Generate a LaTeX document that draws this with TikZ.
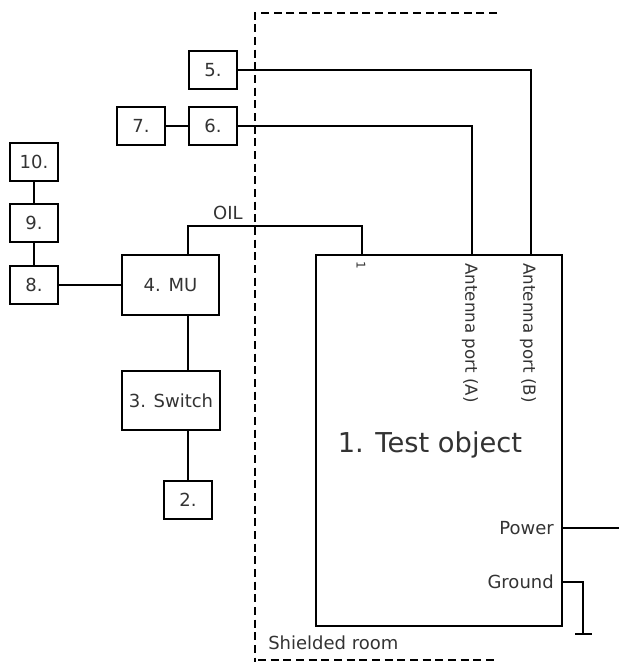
\documentclass[tikz,border=0pt]{standalone}
\usepackage{fontspec}
\setmainfont{DejaVu Sans}
\usetikzlibrary{calc}
\begin{document}
\begin{tikzpicture}[x=0.75pt,y=-0.75pt,
 box/.style={draw,line width=1.4pt,inner sep=0pt,text=black!80,font=\fontsize{13.5}{16}\selectfont},
 small/.style={box,minimum width=36pt,minimum height=29pt},
 wire/.style={line width=1.3pt},
 room/.style={line width=2.1pt,dash pattern=on 6pt off 3.5pt},
 lbl/.style={inner sep=0pt,text=black!80,font=\fontsize{13.5}{16}\selectfont}]
\useasboundingbox (0,0) rectangle (619,662);
% shielded room
\draw[room] (497,13) -- (255,13) -- (255,662);
\draw[room] (258,660) -- (497,660);
\node[lbl,anchor=west] (room) at (268,643) {Shielded room};
% boxes
\node[small] (n5) at (213,70) {5.};
\node[small] (n6) at (213,126) {6.};
\node[small] (n7) at (141,126) {7.};
\node[small] (n10) at (34,162) {10.};
\node[small] (n9) at (34,223) {9.};
\node[small] (n8) at (34,285) {8.};
\node[box,minimum width=73pt,minimum height=45pt] (mu) at (170.5,285) {4. MU};
\node[box,minimum width=73.5pt,minimum height=44pt] (sw) at (171,400.5) {3. Switch};
\node[small] (n2) at (188,500) {2.};
\node[box,minimum width=184.5pt,minimum height=278.25pt] (dut) at (439,440.5) {};
\node[lbl,font=\fontsize{20.5}{24}\selectfont] (title) at (430,445) {1. Test object};
% ports
\coordinate (pB) at (531,255);
\coordinate (pA) at (472,255);
\coordinate (p1) at (362,255);
\node[lbl,font=\fontsize{9}{10}\selectfont,rotate=-90,anchor=west] (l1) at (361,261) {1};
\node[lbl,font=\fontsize{12.5}{15}\selectfont,rotate=-90,anchor=west] (lA) at (470,263) {Antenna port (A)};
\node[lbl,font=\fontsize{12.5}{15}\selectfont,rotate=-90,anchor=west] (lB) at (528,263) {Antenna port (B)};
\node[lbl,anchor=east] (lpow) at (554,528) {Power};
\node[lbl,anchor=east] (lgnd) at (554,582) {Ground};
\node[lbl] (loil) at (228,213) {OIL};
\coordinate (pw) at (619,528);
\coordinate (gy) at (0,582);
\coordinate (gnd) at (583,634);
\coordinate (gl) at (575,634);
\coordinate (gr) at (592,634);
% connectors
\draw[wire] (n5.east) -| (pB);
\draw[wire] (n6.east) -| (pA);
\draw[wire] (n7) -- (n6);
\draw[wire] (n10) -- (n9);
\draw[wire] (n9) -- (n8);
\draw[wire] (n8) -- (mu);
\draw[wire] ($(mu.north)+(17.5,0)$) -- ++(0,-28) -| (p1);
\draw[wire] ($(mu.south)+(17.5,0)$) -- ($(sw.north)+(17,0)$);
\draw[wire] ($(sw.south)+(17,0)$) -- (n2.north);
\draw[wire] (dut.east |- pw) -- (pw);
\draw[wire] (dut.east |- gy) -| (gnd);
\draw[wire] (gl) -- (gr);
\end{tikzpicture}
\end{document}
